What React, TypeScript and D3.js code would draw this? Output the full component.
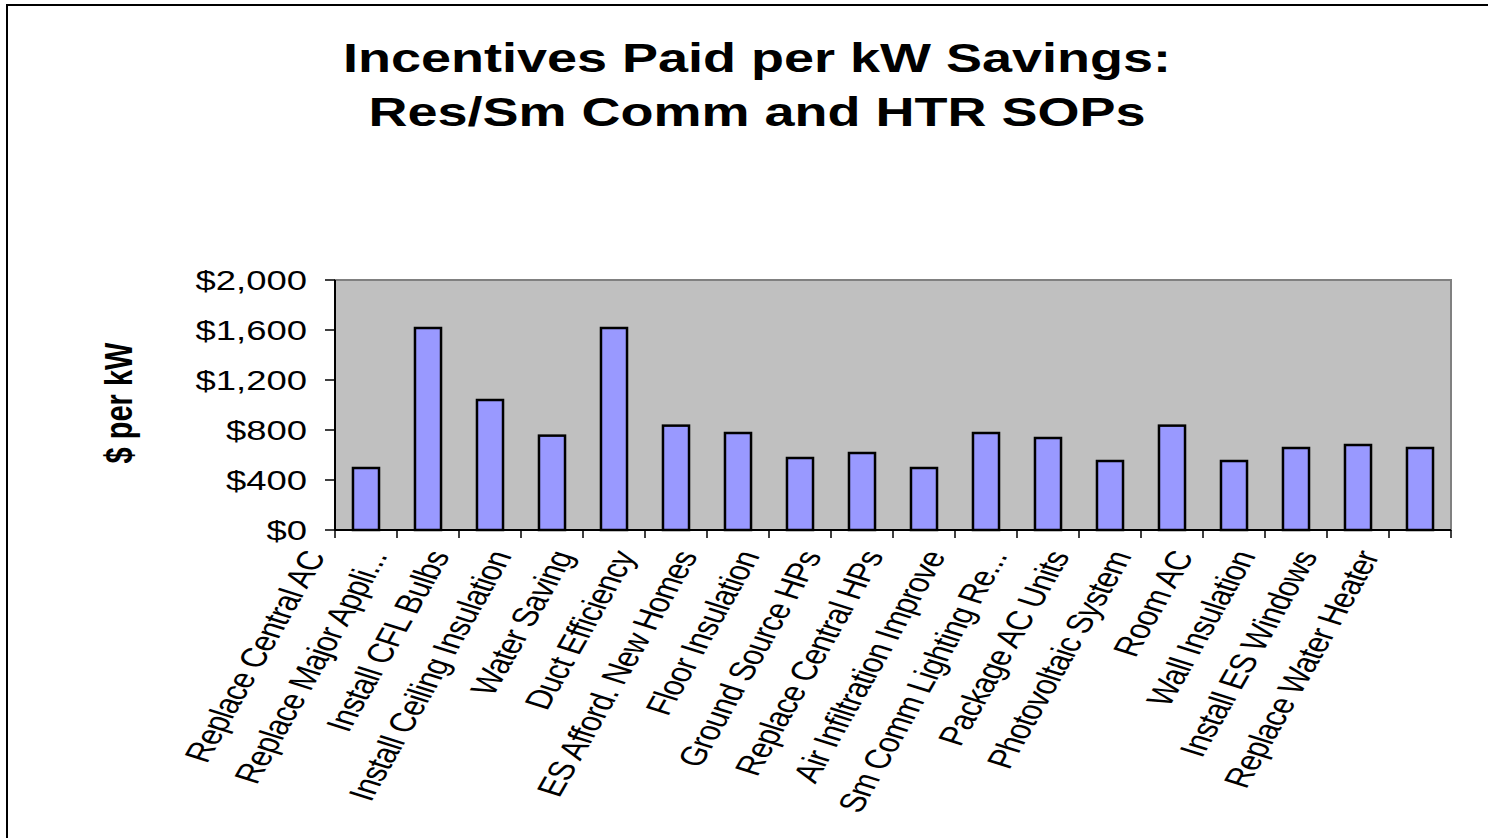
import { format, scaleBand, scaleLinear } from "d3";

const W = 1488
const H = 838
const SX = 1.35 // the original slide is stretched sideways

const categories = [
  "Replace Central AC",
  "Replace Major Appli...",
  "Install CFL Bulbs",
  "Install Ceiling Insulation",
  "Water Saving",
  "Duct Efficiency",
  "ES Afford. New Homes",
  "Floor Insulation",
  "Ground Source HPs",
  "Replace Central HPs",
  "Air Infiltration Improve",
  "Sm Comm Lighting Re...",
  "Package AC Units",
  "Photovoltaic System",
  "Room AC",
  "Wall Insulation",
  "Install ES Windows",
  "Replace Water Heater",
];

const values = [496, 1616, 1040, 755, 1616, 835, 776, 576, 616, 496, 776, 736, 552, 835, 552, 656, 680, 656];

const yTicks = [0, 400, 800, 1200, 1600, 2000];

const titleLines = ["Incentives Paid per kW Savings:", "Res/Sm Comm and HTR SOPs"];

const FONT = "'Liberation Sans', Arial, sans-serif"

export default function App() {
  const left = 335
  const right = 1451
  const top = 280
  const bottom = 530

  const x = scaleBand<string>()
    .domain(categories)
    .range([left, right])
    .paddingInner(0.58)
    .paddingOuter(0.29)

  const y = scaleLinear().domain([0, 2000]).range([bottom, top])
  const fmt = format("$,.0f")

  const step = x.step()
  const leftTick = (c: string) => x(c)! + x.bandwidth() / 2 - step / 2

  return (
    <svg width={W} height={H} style={{ position: "absolute", left: 0, top: 0, display: "block" }} fontFamily={FONT}>
      <rect x={0} y={0} width={W} height={H} fill="#fff" />
      <rect x={7} y={5} width={W + 20} height={H + 20} fill="none" stroke="#000" strokeWidth={2} />

      {/* title */}
      {titleLines.map((t, i) => (
        <text
          key={t}
          transform={`translate(757, ${72 + i * 54}) scale(${SX},1)`}
          textAnchor="middle"
          fontSize={40}
          fontWeight="bold"
        >
          {t}
        </text>
      ))}

      {/* plot area */}
      <rect x={left} y={top} width={right - left} height={bottom - top} fill="#c0c0c0" stroke="#808080" strokeWidth={2} />

      {/* y axis */}
      <line x1={left} x2={left} y1={top} y2={bottom} stroke="#000" strokeWidth={2} />
      {yTicks.map((t) => (
        <g key={t}>
          <line x1={left - 10} x2={left} y1={y(t)} y2={y(t)} stroke="#000" strokeWidth={1.5} />
          <text
            transform={`translate(307, ${y(t)}) scale(${SX},1)`}
            textAnchor="end"
            dy="0.36em"
            fontSize={27}
          >
            {fmt(t)}
          </text>
        </g>
      ))}
      <text
        transform={`translate(118, 403) scale(${SX},1) rotate(-90)`}
        textAnchor="middle"
        dy="0.35em"
        fontSize={29}
        fontWeight="bold"
      >
        $ per kW
      </text>

      {/* bars */}
      {categories.map((c, i) => (
        <rect
          key={c}
          x={x(c)}
          y={y(values[i])}
          width={x.bandwidth()}
          height={bottom - y(values[i])}
          fill="#9999ff"
          stroke="#000"
          strokeWidth={2.5}
        />
      ))}

      {/* x axis */}
      <line x1={left} x2={right} y1={bottom} y2={bottom} stroke="#000" strokeWidth={2} />
      {categories.map((c) => (
        <line key={c} x1={leftTick(c)} x2={leftTick(c)} y1={bottom} y2={bottom + 8} stroke="#000" strokeWidth={1.5} />
      ))}
      <line x1={right} x2={right} y1={bottom} y2={bottom + 8} stroke="#000" strokeWidth={1.5} />

      <clipPath id="labelClip">
        <rect x={0} y={546} width={W} height={H - 546} />
      </clipPath>
      <g clipPath="url(#labelClip)">
        {categories.map((c) => (
          <text
            key={c}
            transform={`translate(${leftTick(c) - 9}, 556) scale(${SX},1) rotate(-67)`}
            textAnchor="end"
            fontSize={27}
            letterSpacing={-0.6}
          >
            {c}
          </text>
        ))}
      </g>
    </svg>
  );
}
